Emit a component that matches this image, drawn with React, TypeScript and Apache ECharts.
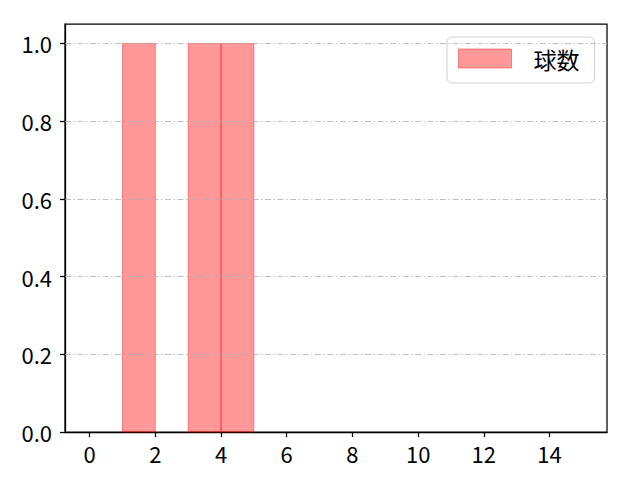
import * as React from "react";
import * as echarts from "echarts";

// histogram bins (left edge, right edge) and counts
const binStarts = [1, 3, 4];
const binEnds = [2, 4, 5];
const counts = [1, 1, 1];
const xTicks = [0, 2, 4, 6, 8, 10, 12, 14];
const yTicks = [0, 0.2, 0.4, 0.6, 0.8, 1.0];
const seriesName = "球数";

const FONT = "'Noto Sans CJK JP', 'Noto Sans', sans-serif";
const FILL = "rgba(255,0,0,0.4)";

export default function App() {
  const ref = React.useRef<HTMLDivElement | null>(null);

  React.useEffect(() => {
    if (!ref.current) return;
    const chart = echarts.init(ref.current, undefined, { renderer: "svg" });
    const data = binStarts.map((s, i) => [s, binEnds[i], counts[i]]);

    chart.setOption({
      animation: false,
      backgroundColor: "#fff",
      textStyle: { fontFamily: FONT },
      grid: {
        left: 65, top: 24, width: 542, height: 408,
        show: true, borderColor: "#000", borderWidth: 1.25, backgroundColor: "transparent",
      },
      legend: {
        left: 447, top: 37,
        padding: [10, 15, 13, 11],
        itemWidth: 53, itemHeight: 19,
        borderColor: "#d0d0d0", borderWidth: 1, borderRadius: 5,
        backgroundColor: "#fff",
        textStyle: { fontSize: 23, color: "#000", padding: [0, 0, 0, 17], fontFamily: FONT },
        data: [{ name: seriesName, icon: "rect", itemStyle: { color: FILL, borderColor: FILL, borderWidth: 1 } }],
      },
      xAxis: {
        type: "value", min: -0.75, max: 15.75,
        axisLine: { show: true, onZero: false, lineStyle: { color: "#000", width: 1.25 } },
        axisTick: { show: true, inside: false, length: 5, customValues: xTicks, lineStyle: { color: "#000", width: 1.25 } },
        axisLabel: { customValues: xTicks, fontSize: 22, color: "#000", margin: 10, fontFamily: FONT },
        splitLine: { show: false },
      },
      yAxis: {
        type: "value", min: 0, max: 1.05,
        axisLine: { show: true, onZero: false, lineStyle: { color: "#000", width: 1.25 } },
        axisTick: { show: true, inside: false, length: 5, customValues: yTicks, lineStyle: { color: "#000", width: 1.25 } },
        axisLabel: {
          customValues: yTicks, fontSize: 22, color: "#000", margin: 13, fontFamily: FONT,
          formatter: (v: number) => v.toFixed(1),
        },
        splitLine: { show: false },
      },
      series: [
        {
          // grid lines (matplotlib dash-dot)
          type: "line", data: [], silent: true,
          markLine: {
            silent: true, symbol: "none", label: { show: false },
            lineStyle: { color: "#b0b0b0", width: 0.8, type: [6, 2.5, 1.5, 2.5] },
            data: yTicks.filter((v) => v > 0).map((v) => ({ yAxis: v })),
          },
          z: 1,
        },
        {
          name: seriesName,
          type: "custom",
          z: 2,
          itemStyle: { color: FILL },
          encode: { x: [0, 1], y: 2 },
          data,
          renderItem: (_p: unknown, api: any) => {
            const a = api.coord([api.value(0), api.value(2)]);
            const b = api.coord([api.value(1), 0]);
            return {
              type: "rect",
              shape: { x: a[0], y: a[1], width: b[0] - a[0], height: b[1] - a[1] },
              style: { fill: FILL, stroke: FILL, lineWidth: 1 },
            };
          },
        },
      ],
    });
    return () => chart.dispose();
  }, []);

  return <div ref={ref} style={{ position: "fixed", left: 0, top: 0, width: 640, height: 480 }} />;
}
